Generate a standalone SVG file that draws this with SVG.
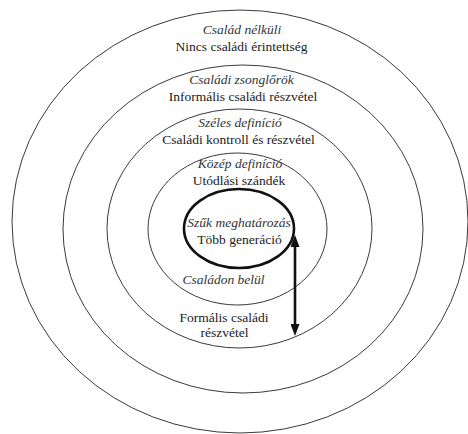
<svg xmlns="http://www.w3.org/2000/svg" width="468" height="434" viewBox="0 0 468 434">
<defs>
<style>
.ring{fill:none;stroke:#3a3a3a;stroke-width:1}
.core{fill:none;stroke:#111;stroke-width:2.6}
.t{font-family:'Liberation Serif','DejaVu Serif',serif;font-size:13.5px;fill:#1a1a1a;text-anchor:middle}
.it{font-style:italic;fill:#333}
.conn{stroke:#111;stroke-width:2.6;fill:none}
</style>
<marker id="ah" viewBox="0 0 12 9" markerWidth="12" markerHeight="9" refX="6" refY="4.5" orient="auto-start-reverse" markerUnits="userSpaceOnUse">
<path d="M0,0 L12,4.5 L0,9 z" fill="#111"/>
</marker>
</defs>
<rect width="468" height="434" fill="#fff"/>
<g id="ring1">
<ellipse class="ring" cx="240" cy="221.5" rx="228" ry="211.5"/>
<text class="t it" x="242" y="34">Család nélküli</text>
<text class="t" x="241.5" y="51">Nincs családi érintettség</text>
</g>
<g id="ring2">
<ellipse class="ring" cx="243" cy="229" rx="180" ry="164"/>
<text class="t it" x="241.5" y="84">Családi zsonglőrök</text>
<text class="t" x="243" y="101">Informális családi részvétel</text>
</g>
<g id="ring3">
<ellipse class="ring" cx="239.5" cy="228.5" rx="132.5" ry="119.5"/>
<text class="t it" x="240" y="127">Széles definíció</text>
<text class="t" x="238.5" y="144">Családi kontroll és részvétel</text>
</g>
<g id="ring4">
<ellipse class="ring" cx="237.5" cy="229" rx="89.5" ry="76"/>
<text class="t it" x="240" y="168">Közép definíció</text>
<text class="t" x="239" y="185">Utódlási szándék</text>
<text class="t it" x="223.5" y="284">Családon belül</text>
</g>
<g id="core">
<ellipse class="core" cx="239" cy="228.5" rx="55" ry="39.5"/>
<text class="t it" x="239" y="227">Szűk meghatározás</text>
<text class="t" x="239.5" y="244">Több generáció</text>
</g>
<g id="formal">
<text class="t" x="224" y="322">Formális családi</text>
<text class="t" x="224.5" y="337">részvétel</text>
</g>
<g id="connectors">
<line class="conn" x1="295" y1="241" x2="295" y2="330" marker-start="url(#ah)" marker-end="url(#ah)"/>
</g>
</svg>
